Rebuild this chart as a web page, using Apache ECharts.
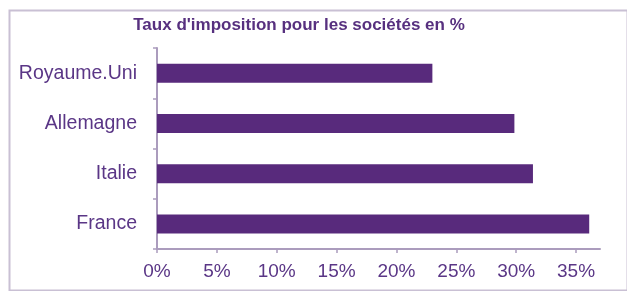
<!DOCTYPE html>
<html>
<head>
<meta charset="utf-8">
<script src="https://cdn.jsdelivr.net/npm/echarts@6/dist/echarts.min.js"></script>
<style>
html,body{margin:0;padding:0;background:#fff;}
#chart{width:627px;height:291px;}
</style>
</head>
<body>
<div id="chart"></div>
<script>
const titleText = "Taux d'imposition pour les sociétés en %";
const categories = ['Royaume.Uni', 'Allemagne', 'Italie', 'France'];
const values = [23.0, 29.85, 31.4, 36.1];
const tickValues = [0, 5, 10, 15, 20, 25, 30, 35];

const textColor = '#5a3686';
const barColor = '#582a7c';
const axisColor = '#ab9cbd';
const fontFam = '"Liberation Sans", Arial, sans-serif';

const chart = echarts.init(document.getElementById('chart'), null, {renderer: 'canvas'});
chart.setOption({
  animation: false,
  backgroundColor: '#ffffff',
  title: {
    text: titleText,
    left: 299, textAlign: 'center',
    top: 17, padding: 0,
    textStyle: {color: '#57307f', fontSize: 17, fontWeight: 'bold', fontFamily: fontFam}
  },
  graphic: [{
    type: 'rect', left: 7, top: 8, z: -1,
    shape: {width: 618, height: 280},
    style: {fill: 'none', stroke: '#c9c0d4', lineWidth: 2}
  }],
  grid: {left: 157, right: 27, top: 48, bottom: 42, containLabel: false},
  xAxis: {
    type: 'value', min: 0, max: 37, interval: 5,
    splitLine: {show: false},
    axisLine: {show: true, lineStyle: {color: axisColor, width: 2}},
    axisTick: {show: true, length: 4, lineStyle: {color: axisColor, width: 1.5}, customValues: tickValues},
    axisLabel: {
      customValues: tickValues,
      formatter: v => v + '%',
      color: textColor, fontSize: 19, fontFamily: fontFam, margin: 13
    }
  },
  yAxis: {
    type: 'category', data: categories, inverse: true,
    axisLine: {show: true, lineStyle: {color: axisColor, width: 2}},
    axisTick: {show: true, length: 4, lineStyle: {color: axisColor, width: 1.5}},
    axisLabel: {color: textColor, fontSize: 19.5, fontFamily: fontFam, margin: 20}
  },
  series: [{
    type: 'bar', data: values, barWidth: 19,
    itemStyle: {color: barColor}
  }]
});
</script>
</body>
</html>
